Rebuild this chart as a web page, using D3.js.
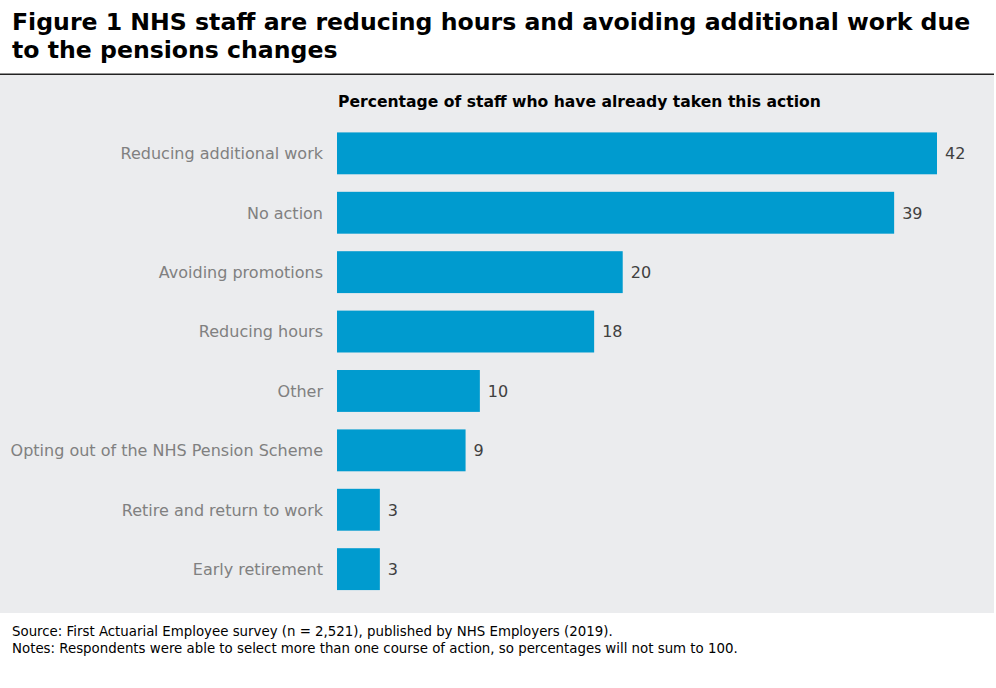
<html>
<head>
  <script src="https://d3js.org/d3.v7.min.js"></script>
  <style>
    body { margin: 0; background: #fff; font-family: Verdana, "DejaVu Sans", sans-serif; }
    text { font-family: Verdana, "DejaVu Sans", sans-serif; }
    .title { font-size: 23.6px; font-weight: bold; fill: #000; }
    .subtitle { font-size: 15.6px; font-weight: bold; fill: #000; }
    .cat { font-size: 16px; fill: #808080; }
    .val { font-size: 16px; fill: #404040; }
    .note { font-size: 13.35px; fill: #000; }
  </style>
</head>
<body>
  <svg width="996" height="688"></svg>
  <script>
    var categories = ["Reducing additional work", "No action", "Avoiding promotions", "Reducing hours",
                      "Other", "Opting out of the NHS Pension Scheme", "Retire and return to work", "Early retirement"];
    var values = [42, 39, 20, 18, 10, 9, 3, 3];
    var titleLines = ["Figure 1 NHS staff are reducing hours and avoiding additional work due",
                      "to the pensions changes"];
    var subtitle = "Percentage of staff who have already taken this action";
    var notes = ["Source: First Actuarial Employee survey (n = 2,521), published by NHS Employers (2019).",
                 "Notes: Respondents were able to select more than one course of action, so percentages will not sum to 100."];

    var data = categories.map(function(c, i) { return {name: c, value: values[i]}; });

    var svg = d3.select("svg");

    // title
    svg.selectAll(".title").data(titleLines).enter().append("text")
        .attr("class", "title")
        .attr("x", 12)
        .attr("y", function(d, i) { return 30 + i * 28; })
        .text(function(d) { return d; });

    svg.append("line")
        .attr("x1", 0).attr("x2", 994)
        .attr("y1", 74.5).attr("y2", 74.5)
        .attr("stroke", "#222").attr("stroke-width", 2);

    svg.append("rect")
        .attr("x", 0).attr("y", 75)
        .attr("width", 994).attr("height", 538)
        .attr("fill", "#ebecee");

    svg.append("text")
        .attr("class", "subtitle")
        .attr("x", 338).attr("y", 107)
        .text(subtitle);

    var x = d3.scaleLinear().domain([0, 42]).range([337, 937]);
    var y = d3.scaleBand()
        .domain(categories)
        .range([123.5, 599])
        .paddingInner(0.295)
        .paddingOuter(0.15);

    var g = svg.append("g");

    g.selectAll(".bar").data(data).enter().append("rect")
        .attr("class", "bar")
        .attr("x", x(0))
        .attr("y", function(d) { return y(d.name); })
        .attr("width", function(d) { return x(d.value) - x(0); })
        .attr("height", y.bandwidth())
        .attr("fill", "#009bcf");

    g.selectAll(".val").data(data).enter().append("text")
        .attr("class", "val")
        .attr("x", function(d) { return x(d.value) + 8; })
        .attr("y", function(d) { return y(d.name) + y.bandwidth() / 2; })
        .attr("dy", "0.36em")
        .text(function(d) { return d.value; });

    var yAxis = d3.axisLeft(y).tickSize(0).tickPadding(14);
    var ax = svg.append("g")
        .attr("transform", "translate(" + x(0) + ",0)")
        .call(yAxis);
    ax.select(".domain").remove();
    ax.selectAll("text").attr("class", "cat").attr("font-size", null).attr("font-family", null)
        .attr("dy", "0.36em").attr("fill", null);

    svg.selectAll(".note").data(notes).enter().append("text")
        .attr("class", "note")
        .attr("x", 12)
        .attr("y", function(d, i) { return 636 + i * 17; })
        .text(function(d) { return d; });
  </script>
</body>
</html>
